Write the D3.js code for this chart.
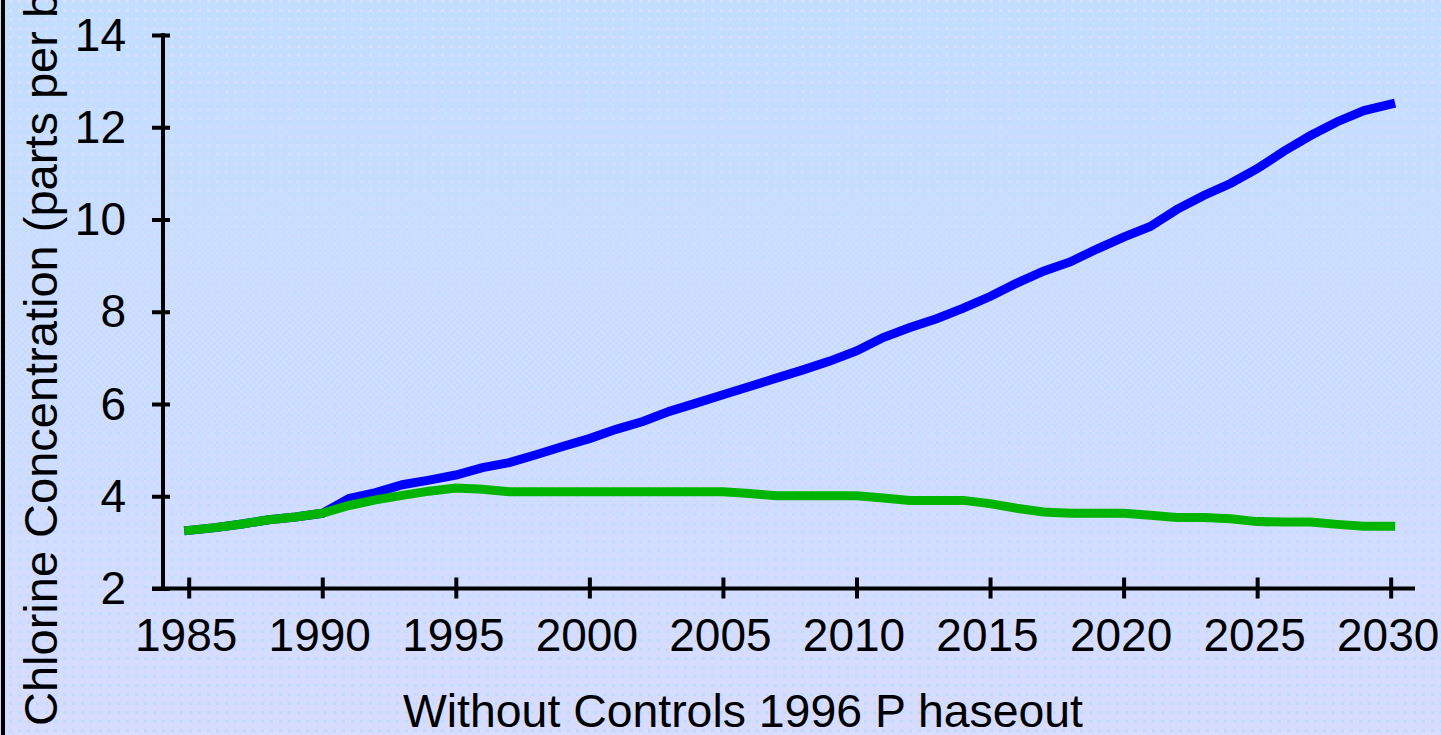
<!DOCTYPE html>
<html>
<head>
<meta charset="utf-8">
<script src="https://cdn.jsdelivr.net/npm/d3@7"></script>
<style>
  html, body { margin: 0; padding: 0; background: #DDDDFF; overflow: hidden; }
  svg { display: block; }
  text { font-family: "Liberation Sans", Arial, sans-serif; fill: #000; }
</style>
</head>
<body>
<svg id="chart" width="1441" height="735"></svg>
<script>
// Chlorine concentration projections, 1985-2030
const years = [1985,1986,1987,1988,1989,1990,1991,1992,1993,1994,1995,1996,1997,1998,1999,
  2000,2001,2002,2003,2004,2005,2006,2007,2008,2009,2010,2011,2012,2013,2014,2015,
  2016,2017,2018,2019,2020,2021,2022,2023,2024,2025,2026,2027,2028,2029,2030];

const withoutControls = [3.26,3.32,3.40,3.49,3.55,3.63,3.95,4.08,4.25,4.35,4.46,4.62,4.73,4.90,5.08,
  5.25,5.45,5.62,5.84,6.02,6.20,6.38,6.56,6.74,6.93,7.15,7.44,7.66,7.85,8.08,8.33,
  8.62,8.88,9.08,9.36,9.62,9.85,10.22,10.52,10.78,11.10,11.48,11.82,12.12,12.36,12.50];

const phaseout1996 = [3.26,3.32,3.40,3.49,3.55,3.63,3.80,3.92,4.02,4.11,4.18,4.15,4.10,4.10,4.10,
  4.10,4.10,4.10,4.10,4.10,4.10,4.06,4.01,4.01,4.01,4.01,3.96,3.91,3.91,3.91,3.84,
  3.74,3.66,3.63,3.63,3.63,3.59,3.54,3.54,3.51,3.45,3.44,3.44,3.39,3.35,3.35];

const yTicks = [2,4,6,8,10,12,14];
const xTicks = [1985,1990,1995,2000,2005,2010,2015,2020,2025,2030];

const yTitle = "Chlorine Concentration (parts per billion)";
const legendText = "Without Controls 1996 P haseout";

const W = 1441, H = 735;
const svg = d3.select("#chart");
const defs = svg.append("defs");

// ---- dithered backdrop: blue at the top fading to lavender at the bottom ----
const BLUE = "#BBDDFF", LAV = "#DDDDFF";
const bg = defs.append("linearGradient").attr("id", "bgGrad")
  .attr("x1", 0).attr("y1", 0).attr("x2", 0).attr("y2", 1);
bg.append("stop").attr("offset", "0%").attr("stop-color", "#C2DEFF");
bg.append("stop").attr("offset", "100%").attr("stop-color", "#D8DCFF");

function dotPattern(id, color, period) {
  const p = defs.append("pattern").attr("id", id).attr("patternUnits", "userSpaceOnUse")
    .attr("width", period).attr("height", period);
  p.append("rect").attr("x", 0).attr("y", 0).attr("width", 3).attr("height", 3).attr("fill", color);
  return p;
}
dotPattern("dotsLav", LAV, 9);
dotPattern("dotsBlue", BLUE, 9);
const chk = defs.append("pattern").attr("id", "checker").attr("patternUnits", "userSpaceOnUse")
  .attr("width", 6).attr("height", 6);
chk.append("rect").attr("width", 6).attr("height", 6).attr("fill", BLUE);
chk.append("rect").attr("x", 0).attr("y", 0).attr("width", 3).attr("height", 3).attr("fill", LAV);
chk.append("rect").attr("x", 3).attr("y", 3).attr("width", 3).attr("height", 3).attr("fill", LAV);

function fadeMask(id, stops) {
  const g = defs.append("linearGradient").attr("id", id + "G")
    .attr("x1", 0).attr("y1", 0).attr("x2", 0).attr("y2", 1);
  stops.forEach(([o, a]) => g.append("stop").attr("offset", o).attr("stop-color", "#fff").attr("stop-opacity", a));
  defs.append("mask").attr("id", id)
    .append("rect").attr("width", W).attr("height", H).attr("fill", `url(#${id}G)`);
}
fadeMask("mTop", [["0%", 1], ["45%", 0.2], ["60%", 0]]);
fadeMask("mMid", [["25%", 0], ["50%", 0.8], ["75%", 0]]);
fadeMask("mBot", [["45%", 0], ["65%", 0.6], ["100%", 1]]);

svg.append("rect").attr("width", W).attr("height", H).attr("fill", "url(#bgGrad)");
svg.append("rect").attr("width", W).attr("height", H).attr("fill", "url(#dotsLav)").attr("mask", "url(#mTop)");
svg.append("rect").attr("width", W).attr("height", H).attr("fill", "url(#checker)").attr("mask", "url(#mMid)").attr("opacity", 0.7);
svg.append("rect").attr("width", W).attr("height", H).attr("fill", "url(#dotsBlue)").attr("mask", "url(#mBot)");

// left frame edge
svg.append("line").attr("x1", 3).attr("x2", 3).attr("y1", 0).attr("y2", H)
  .attr("stroke", "#000").attr("stroke-width", 4);

// ---- scales ----
const x = d3.scaleLinear().domain([1985, 2030]).range([188.7, 1390.7]);
const y = d3.scaleLinear().domain([2, 14]).range([588.5, 35]);
const axisX = 163;        // horizontal position of the value axis
const axisY = y(2);       // vertical position of the year axis

// ---- value axis ----
const gy = svg.append("g").attr("transform", `translate(${axisX},0)`)
  .call(d3.axisLeft(y).tickValues(yTicks).tickSize(11).tickPadding(26).tickFormat(d3.format("d")));
gy.select(".domain").remove();
gy.selectAll(".tick line").attr("x1", -11).attr("x2", 7).attr("stroke", "#000").attr("stroke-width", 4);
gy.selectAll(".tick text").attr("font-size", 46).attr("dy", 15).attr("x", -37)
  .attr("font-family", "Liberation Sans, Arial, sans-serif");
svg.append("line").attr("x1", axisX).attr("x2", axisX).attr("y1", y(14) - 2).attr("y2", axisY + 2)
  .attr("stroke", "#000").attr("stroke-width", 4);

// ---- year axis ----
const gx = svg.append("g").attr("transform", `translate(0,${axisY})`)
  .call(d3.axisBottom(x).tickValues(xTicks).tickSize(10).tickFormat(d3.format("d")));
gx.select(".domain").remove();
gx.selectAll(".tick line").attr("y1", -11).attr("y2", 10).attr("stroke", "#000").attr("stroke-width", 4);
gx.selectAll(".tick text").attr("font-size", 46).attr("y", 62).attr("dy", 0).attr("dx", -3)
  .attr("font-family", "Liberation Sans, Arial, sans-serif");
svg.append("line").attr("x1", 152).attr("x2", 1415).attr("y1", axisY).attr("y2", axisY)
  .attr("stroke", "#000").attr("stroke-width", 4);

// ---- series ----
const line = d3.line().x((d, i) => x(years[i])).y(d => y(d));
svg.append("path").datum(withoutControls).attr("d", line)
  .attr("fill", "none").attr("stroke", "#0000FF").attr("stroke-width", 9)
  .attr("stroke-linecap", "square").attr("stroke-linejoin", "miter");
svg.append("path").datum(phaseout1996).attr("d", line)
  .attr("fill", "none").attr("stroke", "#00B400").attr("stroke-width", 9)
  .attr("stroke-linecap", "square").attr("stroke-linejoin", "miter");

// ---- titles ----
svg.append("text").attr("transform", "translate(57,726) rotate(-90)")
  .attr("font-size", 47).text(yTitle);
svg.append("text").attr("x", 403).attr("y", 727).attr("font-size", 46)
  .attr("textLength", 680).attr("lengthAdjust", "spacingAndGlyphs").text(legendText);
</script>
</body>
</html>
